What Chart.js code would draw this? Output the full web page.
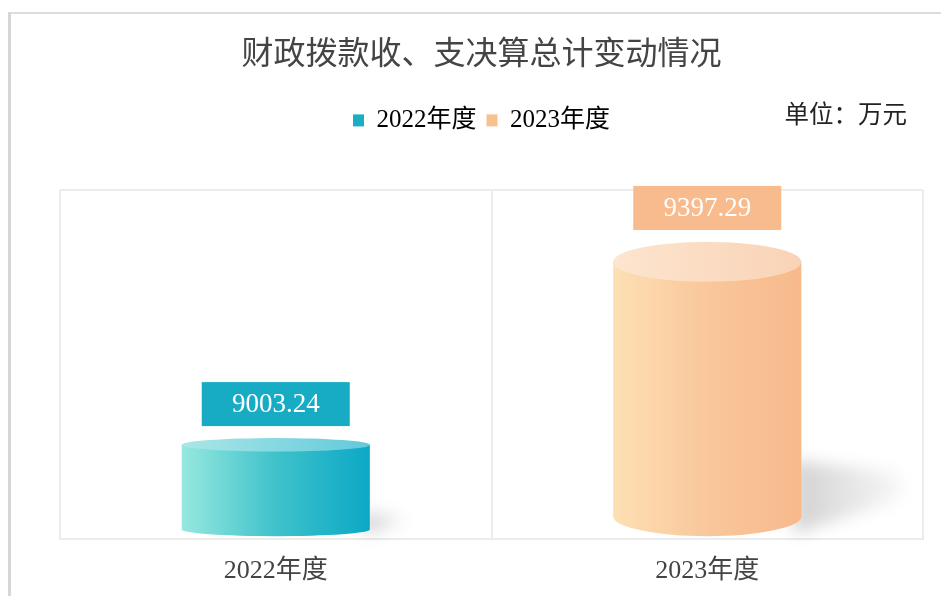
<!DOCTYPE html>
<html>
<head>
<meta charset="utf-8">
<script src="https://cdn.jsdelivr.net/npm/chart.js@4"></script>
<style>
  html, body { margin: 0; padding: 0; background: #fff; }
  #wrap { position: relative; width: 941px; height: 596px; overflow: hidden; }
  #frame { position: absolute; left: 8px; top: 12px; right: -10px; bottom: -10px; border-left: 3px solid #d6d6d6; border-top: 2px solid #dcdcdc; }
  canvas { position: absolute; left: 0; top: 0; }
</style>
</head>
<body>
<div id="wrap"><div id="frame"></div><canvas id="chart" width="941" height="596"></canvas></div>
<script>
const categories = ['2022年度', '2023年度'];
const totals = [9003.24, 9397.29];
const titleText = '财政拨款收、支决算总计变动情况';
const unitText = '单位：万元';
const axisMin = 8800;
const axisMax = 9552;

const palette = [
    { body: ['#97e8df', '#3fc2cb', '#0ba8c6'], top: ['#aae7e6', '#62c9dc'], box: '#17acc4', key: '#19aec6' },
    { body: ['#fde0b3', '#f9c79b', '#f7b98c'], top: ['#fde5cf', '#f9d3b6'], box: '#f8bb8e', key: '#f9c08f' }
];
const serif = '"Liberation Serif", "Noto Sans CJK SC", serif';

// cylinders, shadows and value boxes drawn on top of the (transparent) bars
const cylinderPlugin = {
    id: 'cylinders',
    afterDatasetsDraw(chart) {
        const ctx = chart.ctx;
        const meta = chart.getDatasetMeta(0);
        meta.data.forEach((bar, i) => {
            const p = bar.getProps(['x', 'y', 'base', 'width'], true);
            const h = p.base - p.y;
            const half = p.width / 2;
            const left = p.x - half;
            const right = p.x + half;
            const ry = h * 0.072;
            const bottomY = p.base - 2 - ry;
            const c = palette[i];

            // shadow
            ctx.save();
            ctx.filter = 'blur(8px)';
            const sg = ctx.createLinearGradient(right, 0, right + h * 0.38, 0);
            sg.addColorStop(0, 'rgba(0,0,0,0.17)');
            sg.addColorStop(1, 'rgba(0,0,0,0.02)');
            ctx.fillStyle = sg;
            ctx.beginPath();
            ctx.moveTo(right - 8, p.base - 4);
            ctx.lineTo(right - 8, p.base - h * 0.28);
            ctx.lineTo(right + h * 0.36, p.base - h * 0.24);
            ctx.lineTo(right + h * 0.36, p.base - h * 0.14);
            ctx.closePath();
            ctx.fill();
            ctx.restore();

            // body
            ctx.save();
            const bg = ctx.createLinearGradient(left, 0, right, 0);
            bg.addColorStop(0, c.body[0]);
            bg.addColorStop(0.5, c.body[1]);
            bg.addColorStop(1, c.body[2]);
            ctx.fillStyle = bg;
            ctx.beginPath();
            ctx.moveTo(left, p.y);
            ctx.lineTo(left, bottomY);
            ctx.ellipse(p.x, bottomY, half, ry, 0, Math.PI, 0, true);
            ctx.lineTo(right, p.y);
            ctx.closePath();
            ctx.fill();

            // top face
            const tg = ctx.createLinearGradient(left, 0, right, 0);
            tg.addColorStop(0, c.top[0]);
            tg.addColorStop(1, c.top[1]);
            ctx.fillStyle = tg;
            ctx.beginPath();
            ctx.ellipse(p.x, p.y, half, ry, 0, 0, Math.PI * 2);
            ctx.fill();

            // value box
            const boxW = 148, boxH = 44;
            const boxBottom = p.y - ry - 12;
            ctx.fillStyle = c.box;
            ctx.fillRect(p.x - boxW / 2, boxBottom - boxH, boxW, boxH);
            ctx.fillStyle = '#ffffff';
            ctx.font = '27px ' + serif;
            ctx.textAlign = 'center';
            ctx.textBaseline = 'middle';
            ctx.fillText(totals[i].toFixed(2), p.x, boxBottom - boxH / 2 + 1);
            ctx.restore();
        });
    },
    afterDraw(chart) {
        const ctx = chart.ctx;
        ctx.save();
        ctx.font = '24.5px "Noto Sans CJK SC", sans-serif';
        ctx.fillStyle = '#222222';
        ctx.textAlign = 'right';
        ctx.textBaseline = 'middle';
        ctx.fillText(unitText, chart.chartArea.right - 16, 114);
        ctx.restore();
    }
};

const gridColor = '#ececec';

new Chart(document.getElementById('chart').getContext('2d'), {
    type: 'bar',
    data: {
        labels: categories,
        datasets: [{
            data: totals,
            base: axisMin,
            backgroundColor: 'rgba(0,0,0,0)',
            borderWidth: 0,
            categoryPercentage: 1,
            barPercentage: 0.436
        }]
    },
    options: {
        responsive: false,
        animation: false,
        layout: { padding: { left: 40, right: 18, top: 0, bottom: -7.2 } },
        scales: {
            x: {
                grid: { color: gridColor, lineWidth: 2, drawTicks: false, offset: true },
                border: { color: gridColor, width: 2 },
                ticks: { padding: 16.4, color: '#444444', font: { family: serif, size: 26 } }
            },
            y: {
                min: axisMin,
                max: axisMax,
                ticks: { display: false },
                grid: { color: gridColor, lineWidth: 2, drawTicks: false },
                border: { display: false },
                afterBuildTicks: scale => { scale.ticks = [{ value: axisMin }, { value: axisMax }]; },
                afterFit: scale => { scale.width = 20; }
            }
        },
        plugins: {
            tooltip: { enabled: false },
            title: {
                display: true,
                text: titleText,
                color: '#444444',
                font: { family: '"Noto Sans CJK SC", sans-serif', size: 32, weight: 'normal' },
                padding: { top: 33, bottom: 26.5 }
            },
            subtitle: {
                display: true,
                text: '',
                weight: 500,
                font: { size: 1, lineHeight: 1 },
                padding: { top: 0, bottom: 46.1 }
            },
            legend: {
                labels: {
                    boxWidth: 11,
                    boxHeight: 12,
                    padding: 10,
                    color: '#444444',
                    font: { family: serif, size: 25 },
                    generateLabels: () => categories.map((c, i) => ({
                        text: c,
                        fillStyle: palette[i].key,
                        strokeStyle: palette[i].key,
                        lineWidth: 0,
                        hidden: false,
                        index: i
                    }))
                }
            }
        }
    },
    plugins: [cylinderPlugin]
});
</script>
</body>
</html>
